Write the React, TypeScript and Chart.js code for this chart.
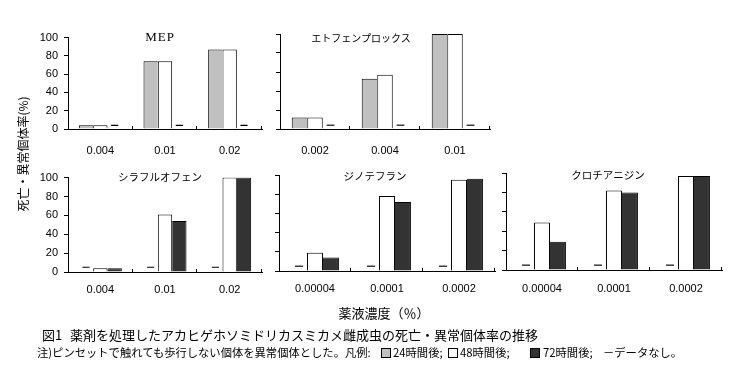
import React, { useEffect, useRef } from "react";
import { Chart, registerables } from "chart.js";
Chart.register(...registerables);

// ---- data ----
const mepLabels = ["0.004", "0.01", "0.02"];
const mep24 = [4, 74, 87];
const mep48 = [4, 74, 87];

const etoLabels = ["0.002", "0.004", "0.01"];
const eto24 = [12, 53, 100];
const eto48 = [12, 57, 100];

const silaLabels = ["0.004", "0.01", "0.02"];
const sila48 = [4, 61, 100];
const sila72 = [4, 54, 100];

const dinoLabels = ["0.00004", "0.0001", "0.0002"];
const dino48 = [19, 78, 95];
const dino72 = [14, 72, 96];

const cloLabels = ["0.00004", "0.0001", "0.0002"];
const clo48 = [49, 82, 97];
const clo72 = [29, 80, 97];

const noDataTop = 4; // level of the "no data" dash, top row
const noDataBottom = 5; // level of the "no data" dash, bottom row
const yMax = 100;
const yStep = 20;

const GRAY = "#c0c0c0";
const DARK = "#333333";
const JP = "'Noto Sans CJK JP', sans-serif";
const NUM = "'Liberation Sans', Arial, sans-serif";

const boundaryTicks = {
  id: "boundaryTicks",
  afterDraw(chart: any) {
    const x = chart.scales.x;
    const n = x.ticks.length;
    const w = (x.right - x.left) / n;
    const ctx = chart.ctx;
    ctx.save();
    ctx.strokeStyle = "#000";
    ctx.lineWidth = 1;
    ctx.beginPath();
    for (let i = 1; i <= n; i++) {
      const px = Math.round(x.left + w * i) - 0.5;
      ctx.moveTo(px, Math.round(x.top));
      ctx.lineTo(px, Math.round(x.top) - 3);
    }
    ctx.stroke();
    ctx.restore();
  },
};

type PanelProps = {
  labels: string[];
  mode: "top" | "bottom";
  a: number[];
  b: number[];
  left: number;
  top: number;
  width: number;
  height: number;
  yLabels: boolean;
  labelPad: number;
};

function Panel(p: PanelProps) {
  const ref = useRef<HTMLCanvasElement>(null);
  const yw = p.yLabels ? 48 : 10;
  const xh = 36;
  const padTop = 10;
  const padRight = 8;
  const cw = yw + p.width + padRight;
  const ch = padTop + p.height + xh;

  useEffect(() => {
    const cat = 0.665;
    const dashLevel = p.mode === "top" ? noDataTop : noDataBottom;
    const dash = {
      label: "データなし",
      data: p.labels.map(() => [dashLevel - 0.6, dashLevel + 0.6]),
      backgroundColor: "#000",
      borderWidth: 0,
      barPercentage: 0.5,
      categoryPercentage: cat,
    };
    const datasets =
      p.mode === "top"
        ? [
            {
              label: "24時間後",
              data: p.a,
              backgroundColor: GRAY,
              borderColor: "#000",
              borderWidth: { top: 1, left: 1, right: 0, bottom: 0 },
              borderSkipped: false,
              barPercentage: 1,
              categoryPercentage: cat,
            },
            {
              label: "48時間後",
              data: p.b,
              backgroundColor: "#fff",
              borderColor: "#000",
              borderWidth: { top: 1, left: 1, right: 1, bottom: 0 },
              borderSkipped: false,
              barPercentage: 1,
              categoryPercentage: cat,
            },
            dash,
          ]
        : [
            dash,
            {
              label: "48時間後",
              data: p.a,
              backgroundColor: "#fff",
              borderColor: "#000",
              borderWidth: { top: 1, left: 1, right: 1, bottom: 0 },
              borderSkipped: false,
              barPercentage: 1,
              categoryPercentage: cat,
            },
            {
              label: "72時間後",
              data: p.b,
              backgroundColor: DARK,
              borderColor: "#000",
              borderWidth: { top: 1, left: 0, right: 1, bottom: 0 },
              borderSkipped: false,
              barPercentage: 1,
              categoryPercentage: cat,
            },
          ];

    const chart = new Chart(ref.current as HTMLCanvasElement, {
      type: "bar",
      data: { labels: p.labels, datasets: datasets as any },
      options: {
        animation: false,
        responsive: false,
        devicePixelRatio: 1,
        layout: { padding: { top: padTop, right: padRight, left: 0, bottom: 0 } },
        plugins: { legend: { display: false }, tooltip: { enabled: false } },
        scales: {
          x: {
            offset: true,
            grid: { display: false },
            border: { display: true, color: "#000", width: 1 },
            ticks: {
              color: "#000",
              font: { family: NUM, size: 11 },
              padding: p.labelPad,
              maxRotation: 0,
              autoSkip: false,
            },
            afterFit: (s: any) => {
              s.height = xh;
            },
          },
          y: {
            min: 0,
            max: yMax,
            ticks: {
              stepSize: yStep,
              display: p.yLabels,
              color: "#000",
              font: { family: NUM, size: 11 },
              padding: 6,
            },
            grid: { drawOnChartArea: false, drawTicks: true, tickLength: 4, color: "#000" },
            border: { display: true, color: "#000", width: 1 },
            afterFit: (s: any) => {
              s.width = yw;
            },
          },
        },
      },
      plugins: [boundaryTicks],
    });
    return () => chart.destroy();
  }, []);

  return (
    <canvas
      ref={ref}
      width={cw}
      height={ch}
      style={{
        position: "absolute",
        left: p.left - yw,
        top: p.top - padTop,
        width: cw,
        height: ch,
      }}
    />
  );
}

function Txt(props: {
  x: number;
  y: number;
  size: number;
  family?: string;
  center?: boolean;
  rotate?: boolean;
  children: any;
  style?: any;
}) {
  const tr = props.rotate
    ? "translate(-50%,-50%) rotate(-90deg)"
    : props.center
    ? "translate(-50%,-50%)"
    : "translate(0,-50%)";
  return (
    <div
      style={{
        position: "absolute",
        left: props.x,
        top: props.y,
        transform: tr,
        fontSize: props.size,
        fontFamily: props.family || JP,
        lineHeight: 1,
        whiteSpace: "nowrap",
        color: "#000",
        ...(props.style || {}),
      }}
    >
      {props.children}
    </div>
  );
}

function Box({ x, y, color }: { x: number; y: number; color: string }) {
  return (
    <div
      style={{
        position: "absolute",
        left: x,
        top: y - 5,
        width: 10,
        height: 10,
        boxSizing: "border-box",
        border: "1px solid #000",
        background: color,
      }}
    />
  );
}

export default function App() {
  return (
    <div
      style={{
        position: "absolute",
        left: 0,
        top: 0,
        width: 737,
        height: 381,
        background: "#fff",
        overflow: "hidden",
      }}
    >
      <Panel labels={mepLabels} mode="top" a={mep24} b={mep48} left={68} top={35} width={194} height={94} yLabels={true} labelPad={7} />
      <Panel labels={etoLabels} mode="top" a={eto24} b={eto48} left={280} top={34} width={210} height={95} yLabels={false} labelPad={7} />
      <Panel labels={silaLabels} mode="bottom" a={sila48} b={sila72} left={68} top={175} width={194} height={97} yLabels={true} labelPad={3} />
      <Panel labels={dinoLabels} mode="bottom" a={dino48} b={dino72} left={279} top={175} width={216} height={96} yLabels={false} labelPad={3} />
      <Panel labels={cloLabels} mode="bottom" a={clo48} b={clo72} left={506} top={173} width={216} height={97} yLabels={false} labelPad={4} />

      <Txt x={160} y={36} size={13} family="'Liberation Serif', serif" center style={{ letterSpacing: 1 }}>MEP</Txt>
      <Txt x={361} y={38} size={10} center>エトフェンプロックス</Txt>
      <Txt x={160} y={177} size={10.5} center>シラフルオフェン</Txt>
      <Txt x={375} y={176} size={10.5} center>ジノテフラン</Txt>
      <Txt x={608} y={175} size={10.5} center>クロチアニジン</Txt>

      <Txt x={23} y={154} size={12} rotate>死亡・異常個体率(%)</Txt>
      <Txt x={384} y={312} size={13} center>薬液濃度（％）</Txt>

      <Txt x={42} y={334} size={13}>図1</Txt>
      <Txt x={70} y={334} size={13}>薬剤を処理したアカヒゲホソミドリカスミカメ雌成虫の死亡・異常個体率の推移</Txt>

      <Txt x={37} y={353} size={11.3}>注)ピンセットで触れても歩行しない個体を異常個体とした。凡例:</Txt>
      <Box x={381} y={353} color={GRAY} />
      <Txt x={393} y={353} size={11.3}>24時間後;</Txt>
      <Box x={448} y={353} color="#fff" />
      <Txt x={460} y={353} size={11.3}>48時間後;</Txt>
      <Box x={530} y={353} color={DARK} />
      <Txt x={543} y={353} size={11.3}>72時間後;</Txt>
      <Txt x={603} y={353} size={11.3}>－データなし。</Txt>
    </div>
  );
}
